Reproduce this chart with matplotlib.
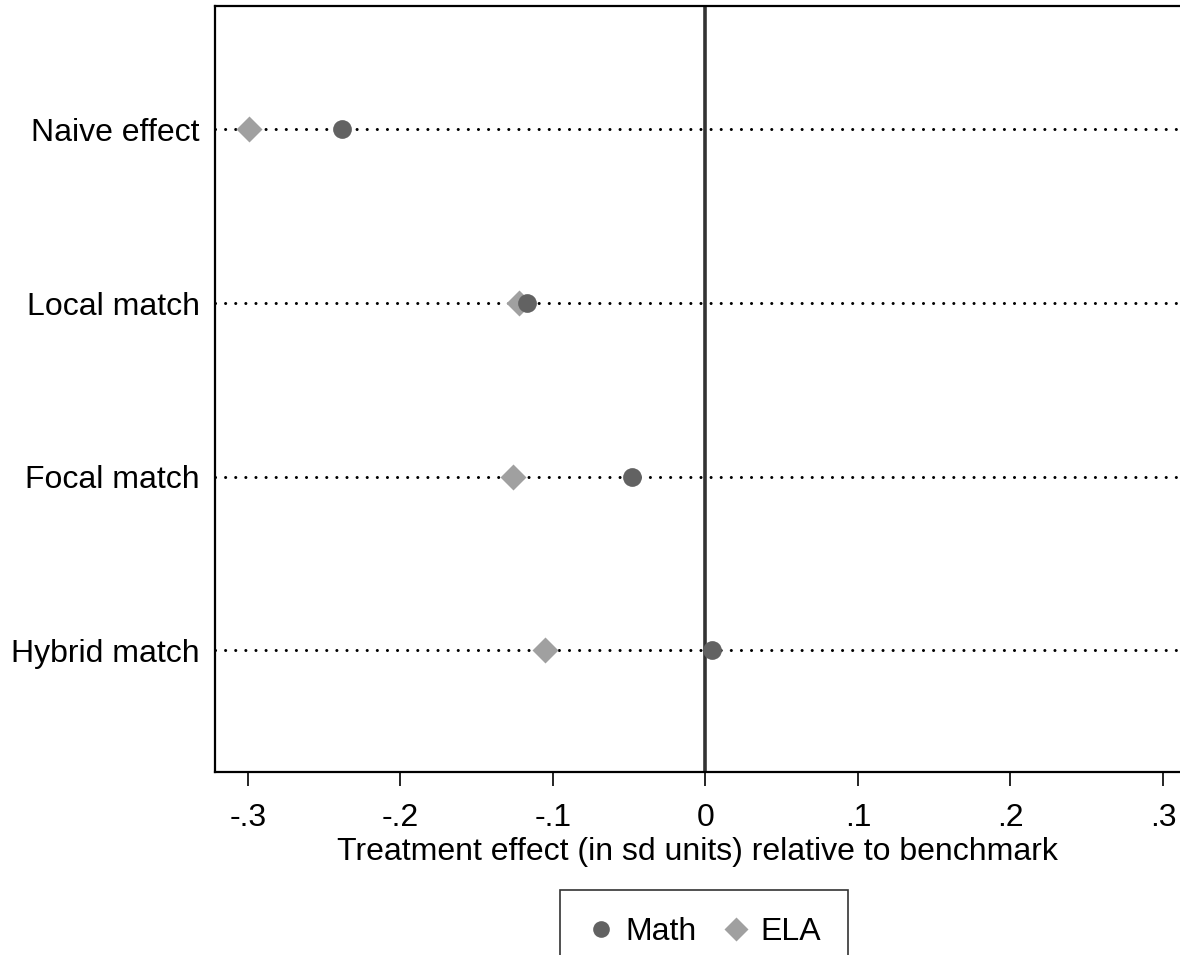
import matplotlib
matplotlib.use("Agg")
import matplotlib.pyplot as plt
from matplotlib.lines import Line2D

plt.rcParams["font.family"] = ["Liberation Sans", "DejaVu Sans"]

# --- data ---------------------------------------------------------------
rows = ["Naive effect", "Local match", "Focal match", "Hybrid match"]
math_eff = [-0.238, -0.117, -0.048, 0.004]
ela_eff = [-0.299, -0.122, -0.126, -0.105]
xticks = [-0.3, -0.2, -0.1, 0.0, 0.1, 0.2, 0.3]
xtick_labels = ["-.3", "-.2", "-.1", "0", ".1", ".2", ".3"]

MATH_C, ELA_C = "#626262", "#a0a0a0"
FS = 23

fig = plt.figure(figsize=(11.8, 9.55), dpi=100)
ax = fig.add_axes([215 / 1180, 183 / 955, 965 / 1180, 766 / 955])

ypos = list(range(1, len(rows) + 1))
for y in ypos:
    ax.axhline(y, color="black", ls=(0, (0.01, 3.3)), lw=2.2,
               dash_capstyle="round", zorder=1)
ax.axvline(0, color="#333333", lw=2.6, zorder=2)

ax.plot(ela_eff, ypos, ls="none", marker="D", ms=13.5, color=ELA_C,
        mec="none", zorder=3)
ax.plot(math_eff, ypos, ls="none", marker="o", ms=13.5, color=MATH_C,
        mec="none", zorder=4)

ax.set_xlim(-0.3216, 0.3112)
ax.set_ylim(4.70, 0.29)
ax.set_yticks(ypos)
ax.set_yticklabels(rows, fontsize=FS)
ax.tick_params(axis="y", length=0, pad=11)
ax.set_xticks(xticks)
ax.set_xticklabels(xtick_labels, fontsize=FS)
ax.tick_params(axis="x", length=10, width=1.2, pad=12, direction="out")
ax.set_xlabel("Treatment effect (in sd units) relative to benchmark",
              fontsize=FS, labelpad=3)
ax.spines["right"].set_visible(False)
for s in ["left", "top", "bottom"]:
    ax.spines[s].set_linewidth(1.6)

handles = [
    Line2D([], [], ls="none", marker="o", ms=12, color=MATH_C, mec="none"),
    Line2D([], [], ls="none", marker="D", ms=12.5, color=ELA_C, mec="none"),
]
leg = fig.legend(handles, ["Math", "ELA"], loc="upper center",
                 bbox_to_anchor=(704 / 1180, 65 / 955), ncol=2, fontsize=FS,
                 frameon=True, fancybox=False, edgecolor="black",
                 handletextpad=0.3, columnspacing=0.8, borderpad=0.85,
                 borderaxespad=0, handlelength=0.9, handleheight=0.7)
leg.get_frame().set_linewidth(1.2)

fig.savefig("out.png", dpi=100)
